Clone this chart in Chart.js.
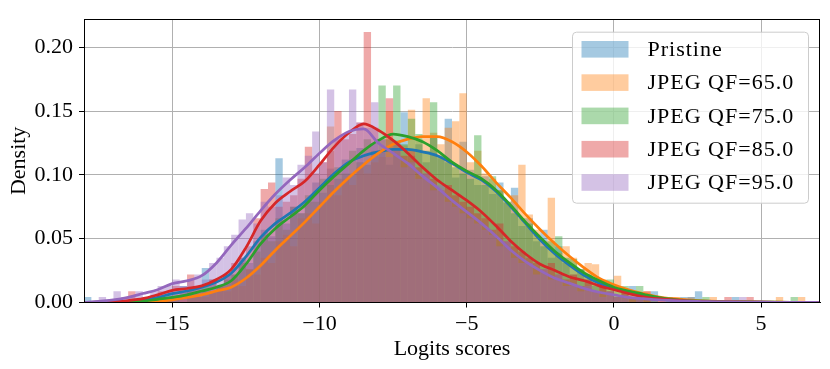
<!DOCTYPE html>
<html>
<head>
<meta charset="utf-8">
<script src="https://cdn.jsdelivr.net/npm/chart.js@4.4.0/dist/chart.umd.min.js"></script>
<style>
  html, body { margin: 0; padding: 0; background: #fff; }
  #wrap { width: 830px; height: 369px; }
</style>
</head>
<body>
<div id="wrap"><canvas id="hist-chart" width="830" height="369"></canvas></div>
<script>
// histogram bins: 0.25 wide from -18, kde sampled every 0.5 from -18
const binStart = -18;
const binWidth = 0.25;
const kdeStart = -18;
const kdeStep = 0.5;

const seriesNames = ["Pristine", "JPEG QF=65.0", "JPEG QF=75.0", "JPEG QF=85.0", "JPEG QF=95.0"];
const seriesColors = ["31,119,180", "255,127,14", "44,160,44", "214,39,40", "148,103,189"];
const xTickValues = [-15, -10, -5, 0, 5];
const yTickValues = [0, 0.05, 0.1, 0.15, 0.2];

// histogram densities
const pristineHist = [
  0.0044,0,0,0,0,0,0,0,0.0044,0,
  0.0044,0.0088,0.0044,0.013,0.0088,0.013,0.027,0.018,0.013,0.022,
  0.022,0.035,0.031,0.048,0.057,0.052,0.113,0.062,0.075,0.070,
  0.079,0.094,0.086,0.105,0.097,0.112,0.101,0.121,0.108,0.125,
  0.119,0.108,0.127,0.149,0.115,0.124,0.110,0.130,0.113,0.144,
  0.098,0.126,0.104,0.092,0.099,0.085,0.094,0.078,0.090,0.060,
  0.066,0.048,0.057,0.035,0.044,0.031,0.022,0.026,0.018,0.013,
  0.013,0.0088,0.0044,0.0088,0.013,0.0044,0.0044,0.0088,0,0.0044,
  0,0.0044,0,0.0088,0,0,0,0,0.0044,0,
  0,0,0,0,0,0,0,0,0,0
];
const qf65Hist = [
  0,0,0,0,0,0,0,0,0,0,
  0,0.0044,0,0.0044,0.0044,0.0088,0.0044,0.0088,0.013,0.0088,
  0.018,0.013,0.026,0.022,0.035,0.031,0.048,0.053,0.044,0.066,
  0.070,0.062,0.079,0.138,0.084,0.097,0.092,0.106,0.101,0.110,
  0.114,0.150,0.119,0.123,0.151,0.128,0.160,0.133,0.124,0.137,
  0.142,0.164,0.110,0.119,0.101,0.097,0.088,0.079,0.084,0.108,
  0.069,0.057,0.048,0.082,0.039,0.044,0.035,0.026,0.031,0.030,
  0.018,0.013,0.021,0.0088,0.0088,0.0044,0.0088,0.0044,0.0044,0,
  0.0044,0,0,0,0,0.0044,0,0,0,0,
  0,0,0,0,0.0044,0,0,0.0044,0,0
];
const qf75Hist = [
  0,0,0,0,0,0,0,0,0,0,
  0,0.0044,0.0044,0,0.0088,0.0044,0.013,0.0088,0.013,0.018,
  0.022,0.031,0.026,0.040,0.053,0.048,0.066,0.057,0.075,0.070,
  0.084,0.079,0.097,0.092,0.106,0.101,0.119,0.110,0.128,0.119,
  0.170,0.128,0.170,0.124,0.144,0.132,0.119,0.157,0.115,0.110,
  0.106,0.101,0.097,0.131,0.092,0.099,0.088,0.079,0.070,0.066,
  0.062,0.053,0.044,0.048,0.052,0.035,0.034,0.026,0.022,0.018,
  0.013,0.018,0.0088,0.013,0.0044,0.013,0.0044,0.0044,0,0.0044,
  0,0,0.0044,0,0.0044,0,0,0,0,0,
  0,0,0,0,0,0,0.0044,0,0,0
];
const qf85Hist = [
  0,0,0,0,0,0,0.0088,0,0.0044,0,
  0.0088,0.0044,0.013,0.0088,0.022,0.013,0.0088,0.018,0.013,0.022,
  0.031,0.035,0.044,0.066,0.089,0.094,0.075,0.079,0.084,0.097,
  0.122,0.101,0.110,0.119,0.150,0.128,0.132,0.141,0.212,0.137,
  0.128,0.160,0.124,0.115,0.119,0.106,0.101,0.097,0.088,0.092,
  0.084,0.079,0.075,0.070,0.066,0.057,0.062,0.048,0.044,0.040,
  0.035,0.031,0.026,0.031,0.022,0.018,0.022,0.013,0.018,0.0088,
  0.013,0.0088,0.0044,0.0088,0.0044,0.0044,0.0088,0,0.0044,0,
  0,0,0,0,0,0,0,0.0044,0,0,
  0.0044,0,0,0,0,0,0,0,0,0
];
const qf95Hist = [
  0,0,0.0044,0,0.0088,0.0044,0.0044,0.0088,0.0044,0.0088,
  0.013,0.013,0.018,0.013,0.018,0.022,0.018,0.031,0.035,0.044,
  0.053,0.065,0.070,0.062,0.079,0.075,0.084,0.098,0.092,0.108,
  0.115,0.134,0.110,0.167,0.128,0.132,0.167,0.141,0.137,0.157,
  0.128,0.114,0.119,0.106,0.110,0.097,0.101,0.088,0.092,0.079,
  0.075,0.070,0.066,0.062,0.057,0.053,0.044,0.048,0.035,0.031,
  0.031,0.022,0.026,0.018,0.022,0.013,0.013,0.0088,0.013,0.0088,
  0.0044,0.0088,0.0044,0.0044,0,0.0044,0,0.0044,0,0,
  0,0,0.0044,0,0,0,0,0,0,0.0044,
  0,0,0,0,0,0,0,0,0,0
];

// kde curves
const pristineKde = [0,0.0003,0.0006,0.001,0.002,0.004,0.007,0.009,0.012,0.016,0.023,
  0.036,0.051,0.062,0.070,0.079,0.090,0.101,0.110,0.115,0.118,
  0.120,0.120,0.118,0.115,0.109,0.102,0.096,0.087,0.075,0.062,
  0.049,0.038,0.029,0.021,0.015,0.011,0.0075,0.005,0.003,0.002,
  0.0013,0.001,0.0008,0.0006,0.0004,0.0003,0.0002,0.0001,0.0001,0];
const qf65Kde = [0,0.0001,0.0002,0.0004,0.0006,0.001,0.002,0.004,0.006,0.009,0.012,
  0.019,0.029,0.041,0.052,0.063,0.075,0.087,0.098,0.108,0.117,
  0.124,0.128,0.130,0.130,0.126,0.118,0.107,0.094,0.082,0.069,
  0.057,0.046,0.036,0.027,0.019,0.014,0.010,0.007,0.0045,0.003,
  0.002,0.0013,0.0009,0.0007,0.0005,0.0004,0.0003,0.0002,0.0001,0.0001];
const qf75Kde = [0,0.0002,0.0004,0.0007,0.001,0.0025,0.004,0.006,0.009,0.012,0.017,
  0.030,0.046,0.058,0.067,0.076,0.088,0.099,0.109,0.119,0.127,
  0.132,0.130,0.126,0.119,0.110,0.103,0.097,0.088,0.076,0.063,
  0.051,0.040,0.031,0.023,0.017,0.012,0.009,0.0065,0.004,0.0025,
  0.0015,0.001,0.0008,0.0006,0.0005,0.0004,0.0003,0.0002,0.0001,0.0001];
const qf85Kde = [0,0.0003,0.0006,0.0015,0.003,0.006,0.0095,0.011,0.013,0.018,0.026,
  0.043,0.064,0.078,0.087,0.095,0.108,0.122,0.133,0.140,0.135,
  0.127,0.117,0.106,0.096,0.088,0.080,0.071,0.060,0.048,0.038,
  0.030,0.025,0.020,0.017,0.013,0.010,0.007,0.0045,0.003,0.002,
  0.0012,0.0008,0.0006,0.0005,0.0004,0.0003,0.0002,0.0001,0.0001,0];
const qf95Kde = [0,0.001,0.002,0.004,0.007,0.010,0.0148,0.017,0.021,0.031,0.045,
  0.058,0.072,0.085,0.096,0.106,0.117,0.127,0.134,0.136,0.125,
  0.117,0.109,0.099,0.090,0.080,0.071,0.062,0.052,0.041,0.032,
  0.025,0.019,0.015,0.011,0.008,0.006,0.004,0.003,0.002,0.0015,
  0.001,0.0008,0.0006,0.0005,0.0004,0.0003,0.0002,0.0001,0.0001,0];

const histSets = [pristineHist, qf65Hist, qf75Hist, qf85Hist, qf95Hist];
const kdeSets = [pristineKde, qf65Kde, qf75Kde, qf85Kde, qf95Kde];

const FONT = "'Liberation Serif', 'Times New Roman', serif";
Chart.defaults.font.family = FONT;
Chart.defaults.color = "#000";

function binPoints(values) {
  return values.map(function (v, i) {
    return { x: binStart + binWidth * (i + 0.5), y: v };
  });
}
function kdePoints(values) {
  return values.map(function (v, i) {
    return { x: kdeStart + kdeStep * i, y: v };
  });
}

const datasets = [];
histSets.forEach(function (vals, i) {
  datasets.push({
    type: "bar",
    label: seriesNames[i],
    data: binPoints(vals),
    backgroundColor: "rgba(" + seriesColors[i] + ",0.4)",
    borderWidth: 0,
    inflateAmount: 0,
    grouped: false,
    barPercentage: 1,
    categoryPercentage: 1,
    order: 10 - i,
  });
});
kdeSets.forEach(function (vals, i) {
  datasets.push({
    type: "line",
    label: seriesNames[i] + " kde",
    data: kdePoints(vals),
    borderColor: "rgb(" + seriesColors[i] + ")",
    borderWidth: 2.7,
    pointRadius: 0,
    fill: false,
    cubicInterpolationMode: "monotone",
    order: -i,
  });
});

// black box round the plot area
const frameBox = {
  id: "frameBox",
  afterDatasetsDraw(chart) {
    const { ctx, chartArea } = chart;
    const l = Math.round(chartArea.left) + 0.5;
    const t = Math.round(chartArea.top) + 0.5;
    const r = Math.round(chartArea.right) - 0.5;
    const b = Math.round(chartArea.bottom) - 0.5;
    ctx.save();
    ctx.strokeStyle = "#000";
    ctx.lineWidth = 1;
    ctx.strokeRect(l, t, r - l, b - t);
    ctx.restore();
  },
};

// matplotlib style legend in the upper right
const legendBox = {
  id: "legendBox",
  afterDraw(chart) {
    const { ctx, chartArea } = chart;
    const w = 236, h = 171, rowH = 33.3;
    const x0 = chartArea.right - 12 - w;
    const y0 = chartArea.top + 12.5;
    ctx.save();
    ctx.beginPath();
    ctx.roundRect(x0 + 0.5, y0 + 0.5, w, h, 4);
    ctx.fillStyle = "rgba(255,255,255,0.8)";
    ctx.fill();
    ctx.strokeStyle = "#cccccc";
    ctx.lineWidth = 1;
    ctx.stroke();
    ctx.font = "22px " + FONT;
    ctx.letterSpacing = "1px";
    ctx.textBaseline = "middle";
    ctx.textAlign = "left";
    seriesNames.forEach(function (name, i) {
      const cy = y0 + 17.6 + rowH * i;
      ctx.fillStyle = "rgba(" + seriesColors[i] + ",0.4)";
      ctx.fillRect(x0 + 9.5, cy - 8.3, 47, 16.6);
      ctx.fillStyle = "#000";
      ctx.fillText(name, x0 + 75.5, cy + 1);
    });
    ctx.restore();
  },
};

const ctx = document.getElementById("hist-chart");
new Chart(ctx, {
  type: "bar",
  data: { datasets: datasets },
  options: {
    responsive: false,
    animation: false,
    layout: { padding: { top: 9, right: 10, left: 0, bottom: 0 } },
    plugins: {
      legend: { display: false },
      tooltip: { enabled: false },
    },
    scales: {
      x: {
        type: "linear",
        min: -18,
        max: 7,
        offset: false,
        z: 1,
        afterBuildTicks: function (scale) {
          scale.ticks = xTickValues.map(function (v) { return { value: v }; });
        },
        afterFit: function (scale) { scale.height = 66.5; },
        ticks: {
          color: "#000",
          font: { size: 22 },
          padding: 4,
          maxRotation: 0,
          autoSkip: false,
          callback: function (v) { return v < 0 ? "\u2212" + Math.abs(v) : String(v); },
        },
        grid: { color: "#b0b0b0", lineWidth: 1, tickColor: "#000", tickLength: 5, offset: false },
        border: { color: "#000", width: 1 },
        title: { display: true, text: "Logits scores", color: "#000", font: { size: 22 }, padding: { top: 0, bottom: 7 } },
      },
      y: {
        min: 0,
        max: 0.222,
        z: 1,
        afterBuildTicks: function (scale) {
          scale.ticks = yTickValues.map(function (v) { return { value: v }; });
        },
        afterFit: function (scale) { scale.width = 84; },
        ticks: {
          color: "#000",
          font: { size: 22 },
          padding: 6,
          callback: function (v) { return v.toFixed(2); },
        },
        grid: { color: "#b0b0b0", lineWidth: 1, tickColor: "#000", tickLength: 5 },
        border: { color: "#000", width: 1 },
        title: { display: true, text: "Density", color: "#000", font: { size: 22 }, padding: { top: 6, bottom: 0 } },
      },
    },
  },
  plugins: [frameBox, legendBox],
});
</script>
</body>
</html>
